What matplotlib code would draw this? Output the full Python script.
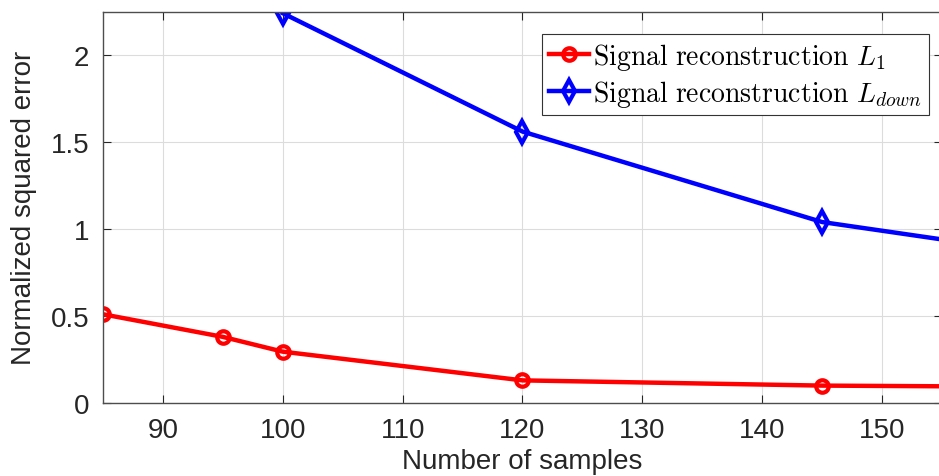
import numpy as np
import matplotlib
matplotlib.use('Agg')
import matplotlib.pyplot as plt
from matplotlib.ticker import FuncFormatter

plt.rcParams['font.family'] = ['Liberation Sans', 'DejaVu Sans']
plt.rcParams['mathtext.fontset'] = 'cm'

# ---------- data ----------
n_samples = [85, 95, 100, 120, 145, 170]
err_l1 = [0.51, 0.38, 0.295, 0.13, 0.10, 0.09]
err_down = [np.nan, np.nan, 2.24, 1.56, 1.04, 0.79]

label_l1 = r'$\mathrm{Signal\ reconstruction\ }L_1$'
label_down = r'$\mathrm{Signal\ reconstruction\ }L_{down}$'

fig = plt.figure(figsize=(9.39, 4.77), dpi=100)
ax = fig.add_axes([103 / 939, 1 - 404 / 477, (942 - 103) / 939, (404 - 12.5) / 477])

ax.plot(n_samples, err_l1, color='#ff0000', lw=3.2, marker='o', ms=9,
        mfc='none', mew=3, label=label_l1)
ax.plot(n_samples, err_down, color='#0000ff', lw=3.2, marker='d', ms=11,
        mfc='none', mew=3, label=label_down)

ax.set_xlim(85, 155)
ax.set_ylim(0, 2.25)
ax.set_xticks([90, 100, 110, 120, 130, 140, 150])
ax.set_yticks([0, 0.5, 1, 1.5, 2])
ax.yaxis.set_major_formatter(FuncFormatter(lambda v, p: '%g' % v))
ax.tick_params(direction='in', top=True, right=True, labelsize=20,
               colors='#262626', length=6, width=0.8, pad=10)
ax.grid(True, color='#dcdcdc', lw=0.8)
for s in ax.spines.values():
    s.set_color('#4d4d4d')
    s.set_linewidth(1.0)

ax.set_xlabel('Number of samples', fontsize=20, color='#262626', labelpad=4)
ax.set_ylabel('Normalized squared error', fontsize=20, color='#262626', labelpad=10)

leg = ax.legend(loc='upper right', bbox_to_anchor=((929 - 103) / 839, (404 - 35) / 391.5),
                fontsize=20, fancybox=False, framealpha=1, edgecolor='#333333',
                handlelength=1.45, handletextpad=0.15, borderpad=0.25,
                labelspacing=0.2, borderaxespad=0)
leg.get_frame().set_linewidth(0.8)

fig.savefig('out.png', dpi=100)
